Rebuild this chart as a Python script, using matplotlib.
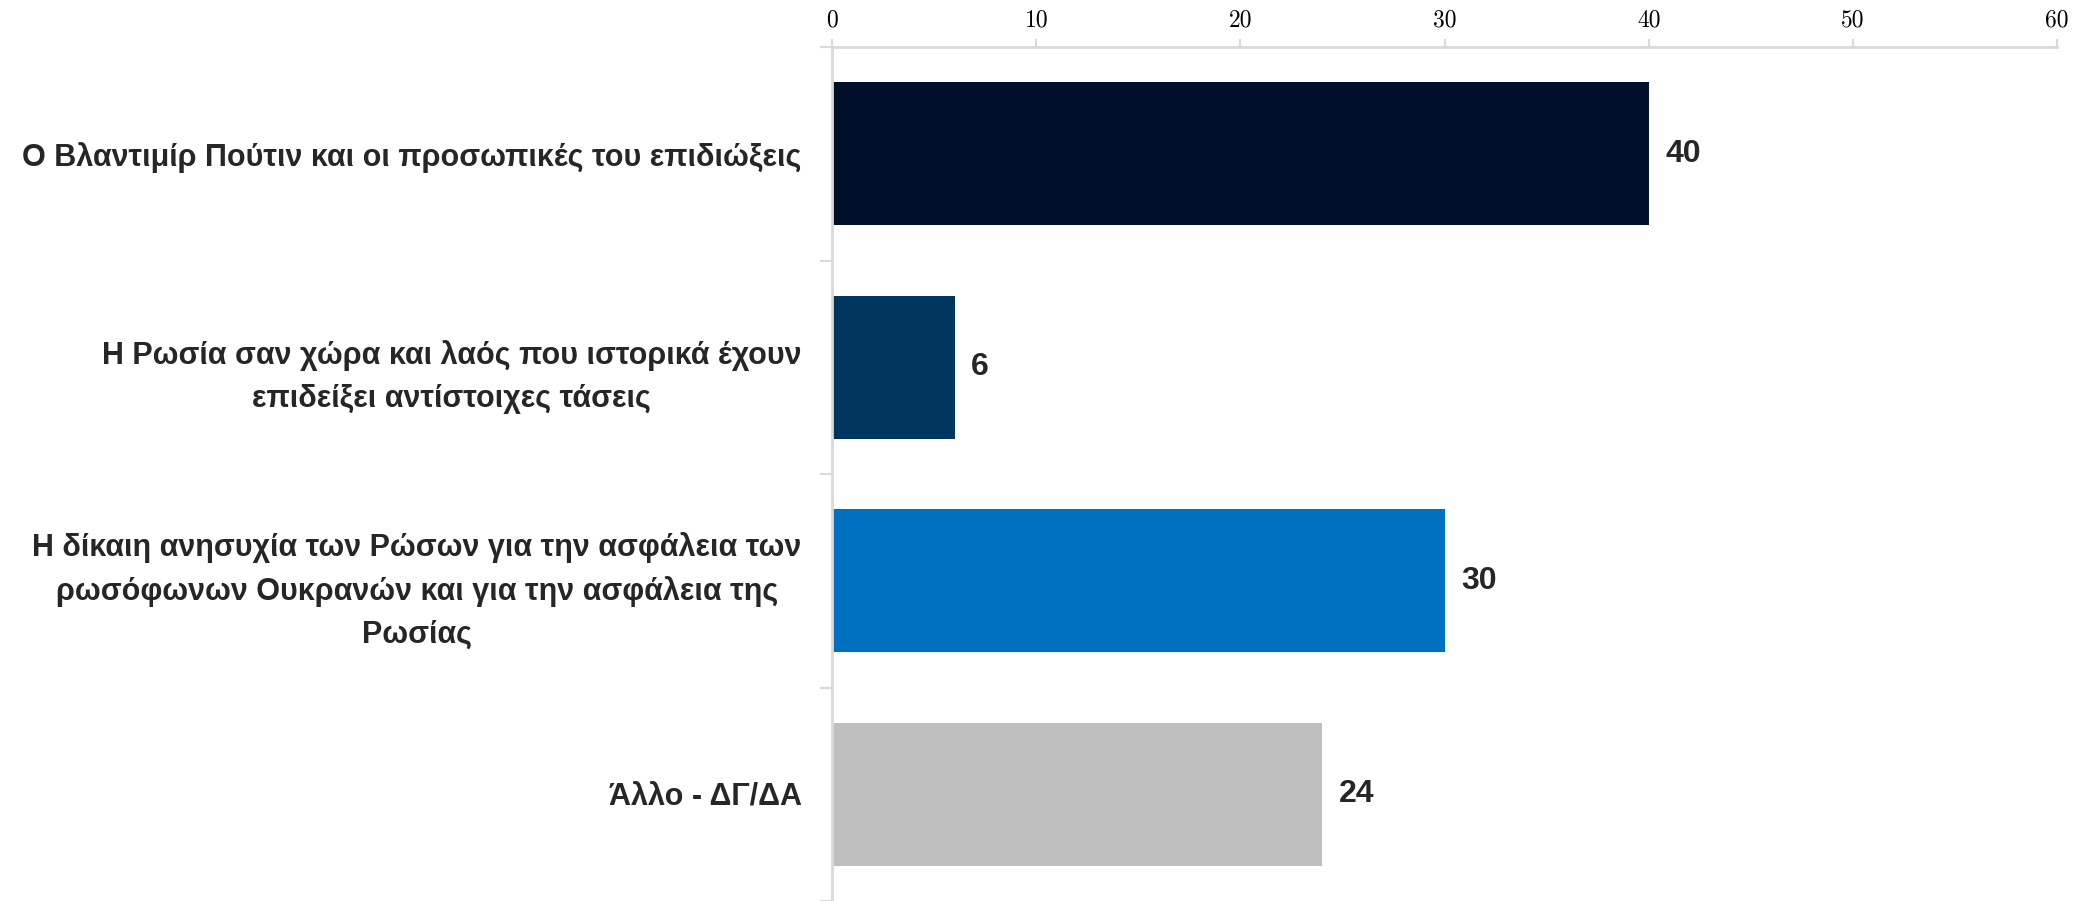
import matplotlib
matplotlib.use('Agg')
import matplotlib.pyplot as plt

categories = [
    'Ο Βλαντιμίρ Πούτιν και οι προσωπικές του επιδιώξεις',
    'Η Ρωσία σαν χώρα και λαός που ιστορικά έχουν\nεπιδείξει αντίστοιχες τάσεις',
    'Η δίκαιη ανησυχία των Ρώσων για την ασφάλεια των\nρωσόφωνων Ουκρανών και για την ασφάλεια της\nΡωσίας',
    'Άλλο - ΔΓ/ΔΑ',
]
values = [40, 6, 30, 24]
colors = ['#000F2A', '#00355F', '#0070C0', '#BFBFBF']
x_ticks = [0, 10, 20, 30, 40, 50, 60]

label_font = ['Liberation Sans Narrow', 'Liberation Sans', 'DejaVu Sans']
grid_col = '#D9D9D9'

fig = plt.figure(figsize=(20.73, 9.01), dpi=100)
ax = fig.add_axes([0.4014, 0.0, 0.591, 0.9478])

y_pos = list(range(len(categories)))
ax.barh(y_pos, values, height=0.67, color=colors)
ax.set_ylim(3.5, -0.5)
ax.set_xlim(0, 60)

# top axis with serif numbers
ax.xaxis.tick_top()
ax.set_xticks(x_ticks)
ax.set_xticklabels([str(t) for t in x_ticks], fontfamily='cmr10', fontsize=17, color='#000000')
ax.tick_params(axis='x', direction='out', length=6, width=1.5, color=grid_col, pad=5)

# category labels, ticks between categories
ax.set_yticks(y_pos)
ax.set_yticklabels(categories, fontfamily=label_font, fontsize=22, fontweight='bold',
                   color='#262626', multialignment='center', linespacing=1.55)
ax.tick_params(axis='y', length=0, pad=22)
ax.set_yticks([i - 0.5 for i in range(len(categories) + 1)], minor=True)
ax.tick_params(axis='y', which='minor', length=9, width=1.5, color=grid_col)

for s in ['right', 'bottom']:
    ax.spines[s].set_visible(False)
for s in ['top', 'left']:
    ax.spines[s].set_color(grid_col)
    ax.spines[s].set_linewidth(2)

for i, v in enumerate(values):
    ax.annotate(str(v), (v, i), xytext=(12, 0), textcoords='offset points',
                va='center', ha='left', fontfamily=label_font, fontsize=23,
                fontweight='bold', color='#262626')

fig.savefig('out.png', dpi=100)
